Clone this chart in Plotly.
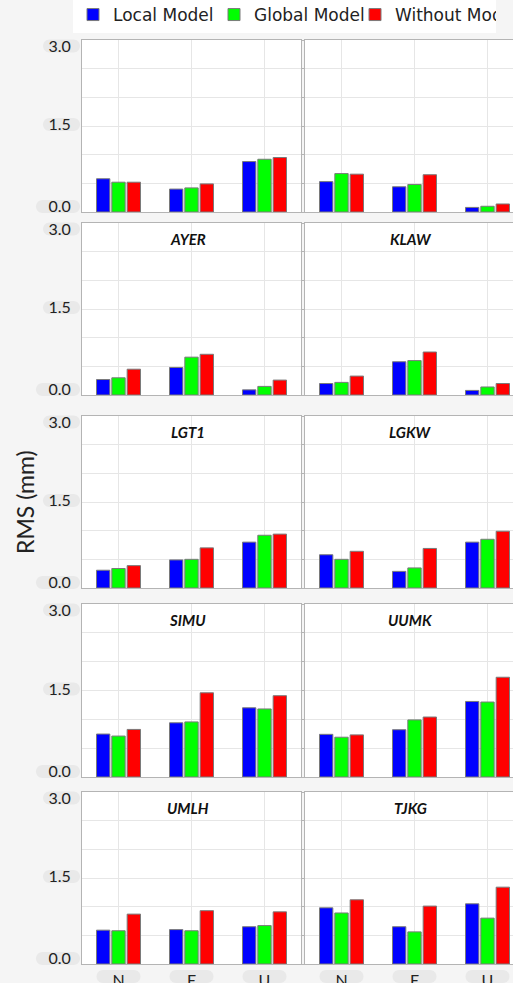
import plotly.graph_objects as go
from plotly.subplots import make_subplots

W, H = 513, 983

categories = ["N", "E", "U"]
stations = ["", "", "AYER", "KLAW", "LGT1", "LGKW", "SIMU", "UUMK", "UMLH", "TJKG"]
series_names = ["Local Model", "Global Model", "Without Model"]
series_colors = ["#0000ff", "#00ff00", "#ff0000"]

local_model = [
    [0.58, 0.40, 0.88], [0.53, 0.44, 0.08],
    [0.27, 0.48, 0.09], [0.20, 0.58, 0.08],
    [0.31, 0.49, 0.80], [0.58, 0.29, 0.80],
    [0.745, 0.94, 1.20], [0.74, 0.82, 1.31],
    [0.59, 0.60, 0.65], [0.98, 0.65, 1.05],
]
global_model = [
    [0.52, 0.42, 0.92], [0.67, 0.48, 0.10],
    [0.30, 0.66, 0.15], [0.22, 0.60, 0.14],
    [0.34, 0.50, 0.92], [0.50, 0.35, 0.85],
    [0.71, 0.955, 1.18], [0.69, 0.99, 1.30],
    [0.58, 0.58, 0.67], [0.89, 0.56, 0.80],
]
without_model = [
    [0.52, 0.49, 0.95], [0.66, 0.65, 0.14],
    [0.45, 0.71, 0.26], [0.33, 0.75, 0.20],
    [0.39, 0.70, 0.94], [0.64, 0.69, 0.99],
    [0.825, 1.46, 1.41], [0.73, 1.04, 1.73],
    [0.87, 0.93, 0.91], [1.12, 1.01, 1.34],
]
y_tick_labels = ["0.0", "1.5", "3.0"]
y_tick_values = [0.0, 1.5, 3.0]
y_grid_step = 0.5

series = [local_model, global_model, without_model]

# layout (pixels)
col_px = [(82, 301), (305, 524)]
row_px = [(40, 212), (223, 395), (416, 588), (604, 777), (792, 964)]
# labels sit slightly inside the axis range (pixel nudges)
label_nudge_px = [-5.5, -1.5, 6.0]

fig = make_subplots(rows=5, cols=2)

for i in range(10):
    r, c = divmod(i, 2)
    for s in range(3):
        fig.add_trace(go.Bar(
            x=categories, y=series[s][i], name=series_names[s],
            marker=dict(color=series_colors[s], line=dict(color="#7a7a7a", width=1)),
            showlegend=(i == 0), legendgroup=series_names[s],
        ), row=r + 1, col=c + 1)

shapes = []
annotations = []
PILL = "#e9e9e9"


def pill(x0, x1, y0, y1):
    rr = (y1 - y0) / 2

    def px(x):
        return x / W

    def py(y):
        return 1 - y / H
    k = 0.55 * rr
    p = (f"M{px(x0 + rr)},{py(y0)} L{px(x1 - rr)},{py(y0)} "
         f"C{px(x1 - rr + k)},{py(y0)} {px(x1)},{py(y0 + rr - k)} {px(x1)},{py(y0 + rr)} "
         f"C{px(x1)},{py(y0 + rr + k)} {px(x1 - rr + k)},{py(y1)} {px(x1 - rr)},{py(y1)} "
         f"L{px(x0 + rr)},{py(y1)} "
         f"C{px(x0 + rr - k)},{py(y1)} {px(x0)},{py(y1 - rr + k)} {px(x0)},{py(y1 - rr)} "
         f"C{px(x0)},{py(y1 - rr - k)} {px(x0 + rr - k)},{py(y0)} {px(x0 + rr)},{py(y0)} Z")
    return dict(type="path", path=p, xref="paper", yref="paper",
                fillcolor=PILL, line=dict(width=0), layer="below")


for i in range(10):
    r, c = divmod(i, 2)
    idx = i + 1
    xa = "xaxis" if idx == 1 else f"xaxis{idx}"
    ya = "yaxis" if idx == 1 else f"yaxis{idx}"
    x0, x1 = col_px[c]
    y0, y1 = row_px[r]
    unit = (x1 - x0) / 3.0
    yunit = (y1 - y0) / 3.0
    xmax = min(x1, W)
    xr = [-0.5, -0.5 + (xmax - x0) / unit]
    fig.layout[xa].update(
        domain=[x0 / W, xmax / W], range=xr, type="category",
        categoryorder="array", categoryarray=categories,
        showgrid=True, gridcolor="#e6e6e6", gridwidth=1,
        showline=True, linecolor="#b4b4b4", linewidth=1, mirror=True,
        showticklabels=(r == 4), ticks="", ticklabelstandoff=2,
        tickfont=dict(family="Lato", size=16, color="#222222"),
        zeroline=False, fixedrange=True,
    )
    label_pos = [v - n / yunit for v, n in zip(y_tick_values, label_nudge_px)]
    fig.layout[ya].update(
        domain=[1 - y1 / H, 1 - y0 / H], range=[0, 3.0],
        tickvals=label_pos, ticktext=y_tick_labels,
        showgrid=False,
        minor=dict(dtick=y_grid_step, tick0=0, showgrid=True, gridcolor="#e6e6e6",
                   gridwidth=1, ticks="outside" if c == 1 else "", ticklen=3,
                   tickcolor="#b4b4b4"),
        showline=True, linecolor="#b4b4b4", linewidth=1,
        mirror=(c == 0),
        showticklabels=(c == 0), ticks="",
        ticklabelstandoff=7,
        tickfont=dict(family="Lato", size=16, color="#222222"),
        zeroline=False, fixedrange=True,
    )
    if stations[i]:
        annotations.append(dict(
            text=stations[i], xref="paper", yref="paper",
            x=((x0 + x1) / 2 - 4) / W, y=1 - (y0 + 16) / H,
            showarrow=False, xanchor="center", yanchor="middle",
            font=dict(family="Lato", size=15, color="#111111", weight="bold", style="italic"),
        ))
    if c == 0:
        for v, n, lab in zip(y_tick_values, label_nudge_px, y_tick_labels):
            yc = y1 - yunit * v + n
            left = 36 if v == 0.0 else 43
            shapes.append(pill(left, 80, yc - 6.5, yc + 6.5))
    if r == 4:
        for k in range(3):
            xc = x0 + unit * (k + 0.5)
            if xc - 22 < W:
                shapes.append(pill(xc - 22, xc + 22, 970, 983))

annotations.append(dict(
    text="RMS (mm)", xref="paper", yref="paper", x=25 / W, y=1 - 502 / H,
    showarrow=False, textangle=-90, xanchor="center", yanchor="middle",
    font=dict(family="Lato", size=23, color="#222222"),
))

fig.update_layout(
    width=W, height=H,
    margin=dict(l=0, r=0, t=0, b=0, autoexpand=False),
    paper_bgcolor="#f5f5f5", plot_bgcolor="#ffffff",
    barmode="group", bargap=0.37, bargroupgap=0.13,
    showlegend=True,
    legend=dict(
        orientation="h", x=73 / W, y=1 + 3 / H, xanchor="left", yanchor="top",
        bgcolor="#ffffff", borderwidth=0,
        font=dict(family="DejaVu Sans", size=17, color="#222222"),
        entrywidth=96, entrywidthmode="pixels",
        itemclick=False, itemdoubleclick=False,
    ),
    annotations=annotations, shapes=shapes,
)

fig.write_html(
    "out.html",
    config={"displayModeBar": False, "staticPlot": True},
    post_script="document.body.style.margin='0';document.body.style.overflow='hidden';",
)
